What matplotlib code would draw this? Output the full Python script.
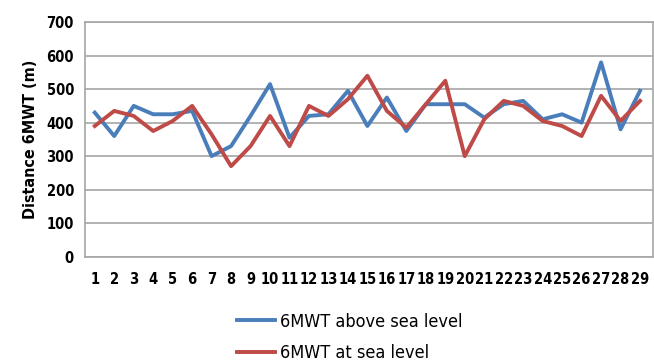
import numpy as np
import matplotlib.pyplot as plt
from matplotlib.lines import Line2D

# données
patients = list(range(1, 30))
above_sea = [430, 360, 450, 425, 425, 435, 300, 330, 420, 515,
             355, 420, 425, 495, 390, 475, 375, 455, 455, 455,
             415, 455, 465, 410, 425, 400, 580, 380, 495]
at_sea = [390, 435, 420, 375, 405, 450, 365, 270, 330, 420,
          330, 450, 420, 470, 540, 435, 385, 455, 525, 300,
          410, 465, 450, 405, 390, 360, 480, 405, 465]
y_ticks = list(range(0, 800, 100))

blue = "#4a7ebb"
red = "#be4b48"

plt.rcParams['font.family'] = ['DejaVu Sans']
plt.rcParams['font.stretch'] = 'condensed'

fig = plt.figure(figsize=(6.54, 3.63), dpi=100)
ax = fig.add_axes([0.130, 0.293, 0.868, 0.646])

ax.plot(patients, above_sea, c=blue, lw=2.8, label="6MWT above sea level")
ax.plot(patients, at_sea, c=red, lw=2.8, label="6MWT at sea level")

ax.set_xlim(0.5, 29.65)
ax.set_ylim(0, 700)
ax.set_xticks(patients)
ax.set_yticks(y_ticks)
ax.tick_params(length=0, labelsize=10.5, pad=8)
ax.tick_params(axis="x", pad=11)
for lab in ax.get_xticklabels() + ax.get_yticklabels():
  lab.set_fontweight("bold")
ax.grid(axis="y", color="#a6a6a6", lw=1.2)
ax.set_axisbelow(True)
for s in ax.spines.values():
  s.set_color("#a6a6a6")
  s.set_linewidth(1.2)

ax.set_ylabel("Distance 6MWT (m)", fontsize=11.5, fontweight="bold", labelpad=6)

handles = [Line2D([], [], c=blue, lw=2.8), Line2D([], [], c=red, lw=2.8)]
fig.legend(handles, ["6MWT above sea level", "6MWT at sea level"],
           loc="upper left", bbox_to_anchor=(0.362, 0.139), ncol=1, frameon=False,
           fontsize=13, handlelength=2.1, handletextpad=0.3, labelspacing=0.75,
           borderaxespad=0, borderpad=0)

fig.savefig("out.png", dpi=100)
